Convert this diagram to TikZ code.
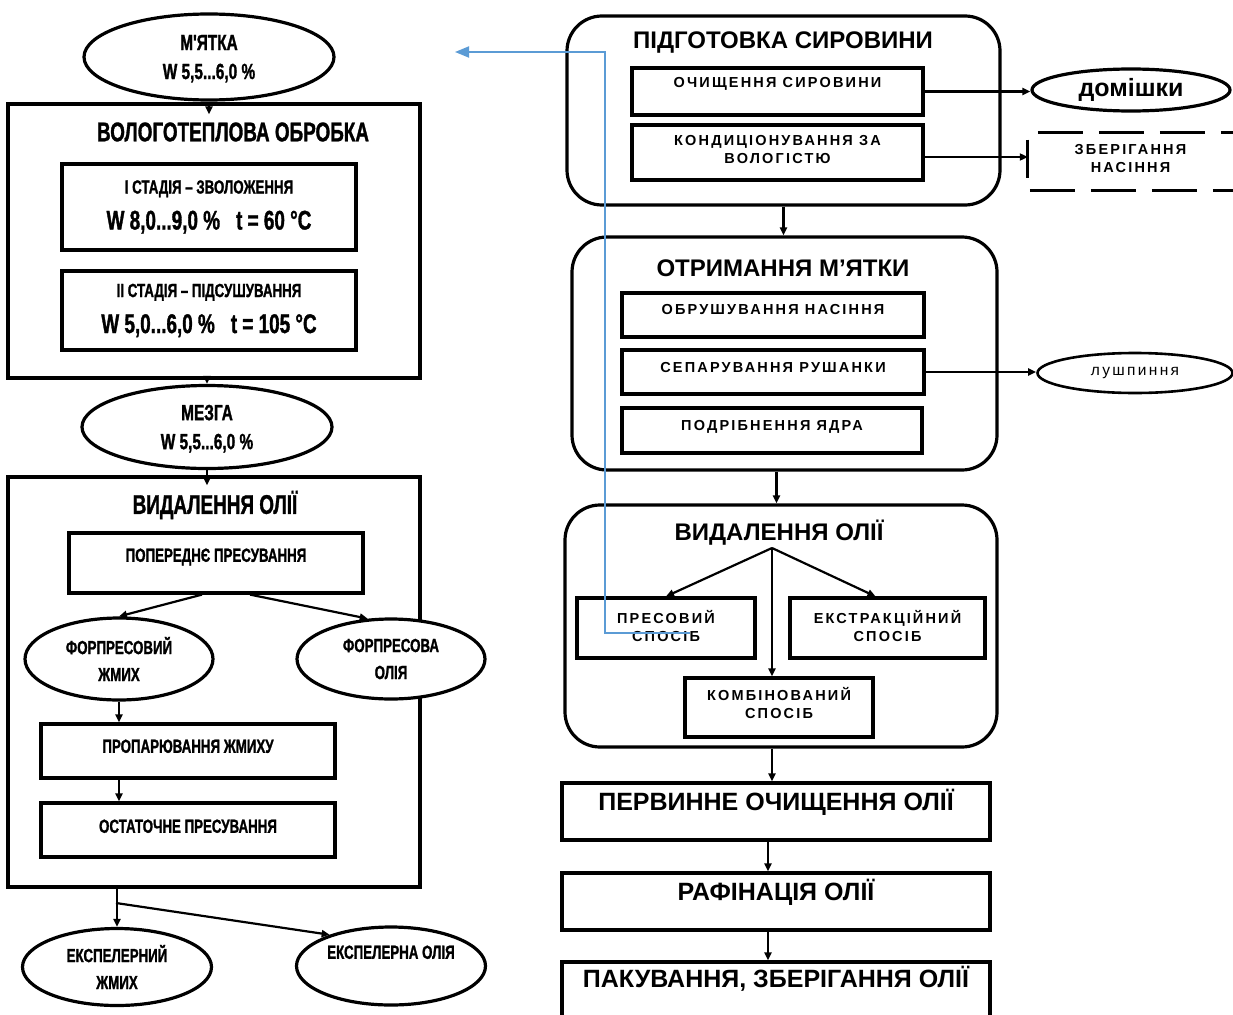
\documentclass[tikz,border=0pt]{standalone}
\usepackage{fontspec}
\setmainfont{Liberation Sans}
\newfontfamily\narrowbf[FakeStretch=0.7,FakeBold=1.2]{Liberation Sans Bold}
\newfontfamily\spaced[LetterSpace=15]{Liberation Sans}
\usetikzlibrary{shapes.geometric,arrows.meta}
\definecolor{linkblue}{RGB}{91,155,213}

\begin{document}
\begin{tikzpicture}[x=1pt,y=-1pt,
	box/.style={draw,line width=3.2pt,align=center,inner sep=0pt},
	rbox/.style={draw,line width=3.2pt,rounded corners=35pt,inner sep=0pt},
	oval/.style={ellipse,draw,fill=white,line width=3.2pt,align=center,inner sep=0pt},
	lift/.style={text depth=#1},
	lhead/.style={font=\narrowbf\fontsize{27}{30}\selectfont,inner sep=0pt},
	ltxt/.style={font=\narrowbf\fontsize{19}{27}\selectfont},
	ltxtone/.style={ltxt,text height=13.6pt},
	lovtxt/.style={font=\narrowbf\fontsize{22}{29}\selectfont,text depth=0pt},
	rhead/.style={font=\bfseries\fontsize{24}{28}\selectfont,inner sep=0pt},
	rbig/.style={font=\bfseries\fontsize{25}{28}\selectfont,text height=18pt},
	rsmall/.style={font=\spaced\bfseries\fontsize{14.5}{18}\selectfont},
	rsmallone/.style={rsmall,text height=10.4pt},
	dashline/.style={line width=3pt,dash pattern=on 45pt off 16pt},
	arr/.style={line width=2.2pt,-{Triangle[length=8pt,width=7pt]}},
	bluearr/.style={linkblue,line width=1.8pt,-{Triangle[length=14pt,width=11pt]}}]
	\useasboundingbox (0,0) rectangle (1233,1014);

	% left column
	\node[oval,lovtxt,minimum width=250pt,minimum height=86pt] (mjatka) at (209,57) {М'ЯТКА\\W 5,5...6,0 \%};
	\node[box,minimum width=412pt,minimum height=274pt] (vto) at (214,241) {};
	\node[lhead] (vtot) at (233,132) {ВОЛОГОТЕПЛОВА ОБРОБКА};
	\node[box,lhead,minimum width=294pt,minimum height=86pt] (stage1) at (209,207)
		{{\fontsize{19}{22}\selectfont І СТАДІЯ – ЗВОЛОЖЕННЯ}\\[6pt]W 8,0...9,0 \%\hspace{16pt}t = 60 °C};
	\node[box,lhead,minimum width=294pt,minimum height=79pt] (stage2) at (209,310.5)
		{{\fontsize{19}{22}\selectfont ІІ СТАДІЯ – ПІДСУШУВАННЯ}\\[6pt]W 5,0...6,0 \%\hspace{16pt}t = 105 °C};
	\node[oval,lovtxt,minimum width=250pt,minimum height=83pt] (mezga) at (207,427) {МЕЗГА\\W 5,5...6,0 \%};
	\node[box,minimum width=412pt,minimum height=410pt] (oil) at (214,682) {};
	\node[lhead] (oilt) at (215,505) {ВИДАЛЕННЯ ОЛІЇ};
	\node[box,ltxtone,lift=16pt,minimum width=294pt,minimum height=60pt] (prepress) at (216,563) {ПОПЕРЕДНЄ ПРЕСУВАННЯ};
	\node[oval,ltxt,minimum width=188pt,minimum height=82pt] (fcake) at (119,659) {ФОРПРЕСОВИЙ\\ЖМИХ};
	\node[oval,ltxt,minimum width=188pt,minimum height=80pt] (foil) at (391,659) {ФОРПРЕСОВА\\ОЛІЯ};
	\node[box,ltxtone,lift=10pt,minimum width=294pt,minimum height=54pt] (steam) at (188,751) {ПРОПАРЮВАННЯ ЖМИХУ};
	\node[box,ltxtone,lift=8pt,minimum width=294pt,minimum height=54pt] (final) at (188,830) {ОСТАТОЧНЕ ПРЕСУВАННЯ};
	\node[oval,ltxt,minimum width=189pt,minimum height=77pt] (ecake) at (117,967) {ЕКСПЕЛЕРНИЙ\\ЖМИХ};
	\node[oval,ltxtone,lift=28pt,minimum width=189pt,minimum height=78pt] (eoil) at (391,966) {ЕКСПЕЛЕРНА ОЛІЯ};
	\coordinate (fork) at (116,903);

	\draw[arr,shorten >=-12pt] (mjatka.south) -- (mjatka.south |- vto.north);
	\draw[arr] (vto.south -| mezga.north) -- (mezga.north);
	\draw[arr,shorten >=-10pt] (mezga.south) -- (mezga.south |- oil.north);
	\draw[arr] ([xshift=-14pt]prepress.south) -- (fcake.north);
	\draw[arr] ([xshift=34pt]prepress.south) -- (foil.120);
	\draw[arr] (fcake.south) -- (fcake.south |- steam.north);
	\draw[arr] (steam.south -| fcake.south) -- (final.north -| fcake.south);
	\draw[arr] (oil.south -| ecake.north) -- (ecake.north);
	\draw[arr] (fork) -- (eoil.153);

	% right column
	\node[rbox,minimum width=433pt,minimum height=189pt] (prep) at (783.5,110.5) {};
	\node[rhead] (prept) at (783,43) {ПІДГОТОВКА СИРОВИНИ};
	\node[box,rsmallone,lift=19pt,minimum width=291pt,minimum height=47pt] (clean) at (777.5,91.5) {ОЧИЩЕННЯ СИРОВИНИ};
	\node[box,rsmall,lift=7pt,minimum width=291pt,minimum height=55pt] (cond) at (777.5,152.5) {КОНДИЦІОНУВАННЯ ЗА\\ВОЛОГІСТЮ};
	\node[oval,font=\bfseries\fontsize{25}{28}\selectfont,minimum width=198pt,minimum height=42pt] (domishky) at (1131,90) {домішки};
	\node[rsmall,align=center,lift=7pt,inner sep=0pt,minimum width=205pt,minimum height=57pt] (store) at (1130.5,161.5) {ЗБЕРІГАННЯ\\НАСІННЯ};
	\draw[dashline] ([xshift=10pt]store.north west) -- (store.north east);
	\draw[dashline] ([xshift=2pt]store.south west) -- (store.south east);
	\draw[line width=3pt] ([yshift=22pt]store.west) -- ([yshift=-16pt]store.west);

	\node[rbox,minimum width=425pt,minimum height=233pt] (obtain) at (784.5,353.5) {};
	\node[rhead] (obtaint) at (783,268) {ОТРИМАННЯ М'ЯТКИ};
	\node[box,rsmallone,lift=12pt,minimum width=302pt,minimum height=44pt] (hull) at (773,315) {ОБРУШУВАННЯ НАСІННЯ};
	\node[box,rsmallone,lift=10pt,minimum width=302pt,minimum height=44pt] (sep) at (773,372) {СЕПАРУВАННЯ РУШАНКИ};
	\node[box,rsmallone,lift=11pt,minimum width=300pt,minimum height=45pt] (grind) at (772,430.5) {ПОДРІБНЕННЯ ЯДРА};
	\node[oval,font=\spaced\fontsize{15.5}{18}\selectfont,line width=2.6pt,minimum width=195pt,minimum height=40pt] (husk) at (1135,373) {лушпиння};

	\node[rbox,minimum width=432pt,minimum height=242pt] (extract) at (781,626) {};
	\node[rhead] (extractt) at (779,533) {ВИДАЛЕННЯ ОЛІЇ};
	\node[box,rsmall,lift=4pt,minimum width=178pt,minimum height=60pt] (press) at (666,628) {ПРЕСОВИЙ\\СПОСІБ};
	\node[box,rsmall,lift=4pt,minimum width=195pt,minimum height=60pt] (solv) at (887.5,628) {ЕКСТРАКЦІЙНИЙ\\СПОСІБ};
	\node[box,rsmall,lift=10pt,minimum width=188pt,minimum height=59pt] (comb) at (779,707.5) {КОМБІНОВАНИЙ\\СПОСІБ};
	\coordinate (hub) at (772,548);

	\node[box,rbig,lift=21pt,minimum width=428pt,minimum height=57pt] (prim) at (776,811.5) {ПЕРВИННЕ ОЧИЩЕННЯ ОЛІЇ};
	\node[box,rbig,lift=21pt,minimum width=428pt,minimum height=57pt] (ref) at (776,901.5) {РАФІНАЦІЯ ОЛІЇ};
	\node[box,rbig,lift=25pt,minimum width=428pt,minimum height=57pt] (pack) at (776,990.5) {ПАКУВАННЯ, ЗБЕРІГАННЯ ОЛІЇ};

	\draw[arr] (clean.east) -- (clean.east -| domishky.west);
	\draw[arr] ([yshift=-4.5pt]cond.east) -- ([yshift=-4.5pt]cond.east -| store.west);
	\draw[arr] (prep.south) -- (prep.south |- obtain.north);
	\draw[arr] (sep.east) -- (sep.east -| husk.west);
	\draw[arr] ([xshift=-8pt]obtain.south) -- ([xshift=-8pt]obtain.south |- extract.north);
	\draw[arr] (hub) -- (press.north);
	\draw[arr] (hub) -- ([xshift=-12pt]solv.north);
	\draw[arr] (hub) -- (hub |- comb.north);
	\draw[arr] (extract.south -| hub) -- (prim.north -| hub);
	\draw[arr] ([xshift=-8pt]prim.south) -- ([xshift=-8pt]ref.north);
	\draw[arr] ([xshift=-8pt]ref.south) -- ([xshift=-8pt]pack.north);

	% blue link
	\coordinate (bluestart) at (690,633);
	\coordinate (bluetip) at (455,52);
	\draw[bluearr] (bluestart) -- ++(-85,0) |- (bluetip);
\end{tikzpicture}
\end{document}
